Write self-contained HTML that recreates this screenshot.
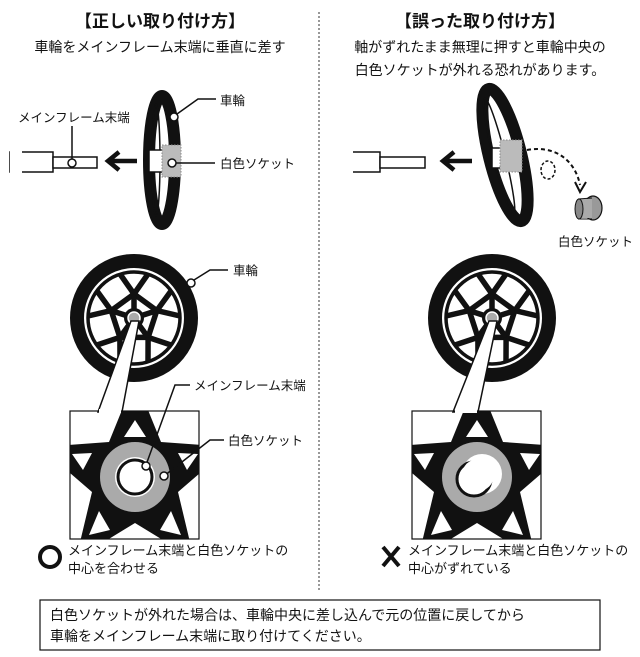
<!DOCTYPE html>
<html><head><meta charset="utf-8"><style>
html,body{margin:0;padding:0;background:#fff;}
svg{display:block;}
text{font-family:"Liberation Sans","Noto Sans CJK JP",sans-serif;fill:#111;}
</style></head><body>
<svg width="640" height="657" viewBox="0 0 640 657" xmlns="http://www.w3.org/2000/svg">
<defs>
  <g id="wheel">
    <circle r="57" fill="none" stroke="#111" stroke-width="14"/>
    <circle r="46" fill="none" stroke="#111" stroke-width="3.5"/>
    <g stroke="#111" stroke-width="5.5" fill="none" stroke-linejoin="round">
      <polygon points="0,-24 22.8,-7.4 14.1,19.4 -14.1,19.4 -22.8,-7.4"/>
      <line x1="0" y1="0" x2="0" y2="-24"/><line x1="0" y1="0" x2="22.8" y2="-7.4"/>
      <line x1="0" y1="0" x2="14.1" y2="19.4"/><line x1="0" y1="0" x2="-14.1" y2="19.4"/>
      <line x1="0" y1="0" x2="-22.8" y2="-7.4"/>
      <path d="M0,-24 L-14,-44 M0,-24 L14,-44"/>
      <path d="M22.8,-7.4 L37,-27 M22.8,-7.4 L46,-2"/>
      <path d="M14.1,19.4 L37,27 M14.1,19.4 L14,44"/>
      <path d="M-14.1,19.4 L-37,27 M-14.1,19.4 L-14,44"/>
      <path d="M-22.8,-7.4 L-37,-27 M-22.8,-7.4 L-46,-2"/>
    </g>
    <circle r="10" fill="#111"/>
    <circle r="6" fill="#aaa" stroke="#fff" stroke-width="1.5"/>
  </g>
  <g id="star">
    <polygon points="0,-100 26,-36 95,-31 43,14 59,81 0,45 -59,81 -43,14 -95,-31 -26,-36" fill="#111"/>
    <polygon points="0,-58 -11,-41 11,-41" fill="#fff"/>
    <polygon points="-63,-24 -43,-25 -52,-8" fill="#fff"/>
    <polygon points="63,-24 43,-25 52,-8" fill="#fff"/>
    <polygon points="-36,33 -46,57 -25,52" fill="#fff"/>
    <polygon points="36,33 46,57 25,52" fill="#fff"/>
  </g>
  <clipPath id="cl"><rect x="70" y="411" width="129" height="128"/></clipPath>
  <clipPath id="cr"><rect x="412" y="411" width="129" height="128"/></clipPath>
</defs>

<!-- titles -->
<text x="160" y="27" font-size="17" font-weight="bold" text-anchor="middle">【正しい取り付け方】</text>
<text x="160" y="52" font-size="14" text-anchor="middle">車輪をメインフレーム末端に垂直に差す</text>
<text x="480" y="27" font-size="17" font-weight="bold" text-anchor="middle">【誤った取り付け方】</text>
<text x="480" y="52" font-size="14" text-anchor="middle">軸がずれたまま無理に押すと車輪中央の</text>
<text x="480" y="75" font-size="14" text-anchor="middle">白色ソケットが外れる恐れがあります。</text>
<line x1="319" y1="12" x2="319" y2="590" stroke="#777" stroke-width="1.5" stroke-dasharray="2,2"/>

<!-- top-left side wheel -->
<ellipse cx="162" cy="160" rx="13" ry="64" fill="none" stroke="#111" stroke-width="12"/>
<ellipse cx="156" cy="160" rx="4" ry="56" fill="none" stroke="#111" stroke-width="1.5"/>
<rect x="149" y="150" width="14" height="22" fill="#fff" stroke="#111" stroke-width="1.5"/>
<rect x="162" y="145" width="19" height="32" fill="#bbb" stroke="#888" stroke-dasharray="1.5,1.5"/>
<circle cx="174" cy="117" r="4" fill="#fff" stroke="#111" stroke-width="1.5"/>
<polyline points="177,114 198,99 216,99" fill="none" stroke="#111" stroke-width="1.5"/>
<text x="220" y="105" font-size="12.5">車輪</text>
<circle cx="172" cy="163" r="4" fill="#fff" stroke="#111" stroke-width="1.5"/>
<line x1="176" y1="163" x2="215" y2="163" stroke="#111" stroke-width="1.5"/>
<text x="220" y="168" font-size="12.5">白色ソケット</text>
<rect x="10" y="152" width="43" height="20" fill="#fff" stroke="#111" stroke-width="1.5"/>
<rect x="10" y="151" width="12" height="22" fill="#fff"/>
<rect x="53" y="157" width="44" height="11" fill="#fff" stroke="#111" stroke-width="1.5"/>
<circle cx="72" cy="163" r="4" fill="#fff" stroke="#111" stroke-width="1.5"/>
<line x1="72" y1="126" x2="72" y2="159" stroke="#111" stroke-width="1.5"/>
<text x="18" y="122" font-size="12.5">メインフレーム末端</text>
<path d="M137,161 H110 M119,152 L108,161 L119,170" fill="none" stroke="#111" stroke-width="4.5"/>

<!-- top-right tilted wheel -->
<g transform="rotate(-14 505 155)">
<ellipse cx="505" cy="155" rx="16" ry="68" fill="none" stroke="#111" stroke-width="12"/>
<ellipse cx="499" cy="155" rx="6" ry="60" fill="none" stroke="#111" stroke-width="1.5"/>
</g>
<rect x="492" y="148" width="12" height="20" fill="#fff" stroke="#111" stroke-width="1.5"/>
<rect x="500" y="140" width="22" height="32" fill="#bbb" stroke="#888" stroke-dasharray="1.5,1.5"/>
<rect x="345" y="152" width="35" height="20" fill="#fff" stroke="#111" stroke-width="1.5"/>
<rect x="343" y="151" width="10" height="22" fill="#fff"/>
<rect x="380" y="157" width="45" height="11" fill="#fff" stroke="#111" stroke-width="1.5"/>
<path d="M472,161 H445 M454,152 L443,161 L454,170" fill="none" stroke="#111" stroke-width="4.5"/>
<path d="M527,150 C555,145 575,160 580,185" fill="none" stroke="#111" stroke-width="2" stroke-dasharray="4,3"/>
<path d="M575,182 L580,192 L586,182" fill="none" stroke="#111" stroke-width="2"/>
<ellipse cx="548" cy="170" rx="7" ry="9" fill="none" stroke="#111" stroke-width="1.5" stroke-dasharray="3,2"/>
<ellipse cx="593" cy="208" rx="9" ry="12" fill="#999" stroke="#111" stroke-width="1.2"/>
<rect x="578" y="199" width="14" height="19" fill="#aaa"/>
<ellipse cx="579" cy="209" rx="4" ry="10" fill="#888" stroke="#111" stroke-width="1"/>
<line x1="578" y1="199" x2="592" y2="198" stroke="#111"/><line x1="578" y1="219" x2="592" y2="219" stroke="#111"/>
<text x="558" y="246" font-size="12.5">白色ソケット</text>

<!-- bottom-left -->
<use href="#wheel" x="134" y="318"/>
<polygon points="131,321 139,321 122,412 98,412" fill="#fff" stroke="#111" stroke-width="1.5"/>
<circle cx="191" cy="283" r="4" fill="#fff" stroke="#111" stroke-width="1.5"/>
<polyline points="194,280 210,270 228,270" fill="none" stroke="#111" stroke-width="1.5"/>
<text x="233" y="275" font-size="12.5">車輪</text>
<g clip-path="url(#cl)"><use href="#star" x="135" y="478"/></g>
<rect x="70" y="411" width="129" height="128" fill="none" stroke="#111" stroke-width="1.2"/>
<rect x="99" y="409" width="22" height="4" fill="#fff"/>
<circle cx="135" cy="477" r="35" fill="#aaa"/>
<circle cx="135" cy="477" r="20" fill="#fff"/>
<circle cx="135" cy="477" r="17" fill="#fff" stroke="#111" stroke-width="3"/>
<polyline points="146,465 175,385 190,385" fill="none" stroke="#111" stroke-width="1.5"/>
<circle cx="146" cy="466" r="4" fill="#fff" stroke="#111" stroke-width="1.5"/>
<text x="194" y="390" font-size="12.5">メインフレーム末端</text>
<polyline points="164,476 210,440 224,440" fill="none" stroke="#111" stroke-width="1.5"/>
<circle cx="164" cy="476" r="4" fill="#fff" stroke="#111" stroke-width="1.5"/>
<text x="228" y="445" font-size="12.5">白色ソケット</text>
<circle cx="50" cy="557" r="10" fill="none" stroke="#111" stroke-width="4"/>
<text x="68" y="555" font-size="13">メインフレーム末端と白色ソケットの</text>
<text x="68" y="573" font-size="13">中心を合わせる</text>

<!-- bottom-right -->
<use href="#wheel" x="492" y="318"/>
<polygon points="489,321 497,321 478,412 453,412" fill="#fff" stroke="#111" stroke-width="1.5"/>
<g clip-path="url(#cr)"><use href="#star" x="477" y="478"/></g>
<rect x="412" y="411" width="129" height="128" fill="none" stroke="#111" stroke-width="1.2"/>
<rect x="455" y="409" width="22" height="4" fill="#fff"/>
<circle cx="477" cy="477" r="35" fill="#aaa"/>
<circle cx="482" cy="474" r="20" fill="#fff"/>
<circle cx="474" cy="479" r="17" fill="#fff" stroke="#111" stroke-width="3"/>
<circle cx="478" cy="475" r="16" fill="#fff"/>
<path d="M383,547 L399,566 M399,547 L383,566" stroke="#111" stroke-width="4"/>
<text x="408" y="555" font-size="13">メインフレーム末端と白色ソケットの</text>
<text x="408" y="573" font-size="13">中心がずれている</text>

<!-- note -->
<rect x="40" y="600" width="560" height="50" fill="none" stroke="#111" stroke-width="1.2"/>
<text x="50" y="620" font-size="14">白色ソケットが外れた場合は、車輪中央に差し込んで元の位置に戻してから</text>
<text x="50" y="641" font-size="14">車輪をメインフレーム末端に取り付けてください。</text>
</svg>
</body></html>
